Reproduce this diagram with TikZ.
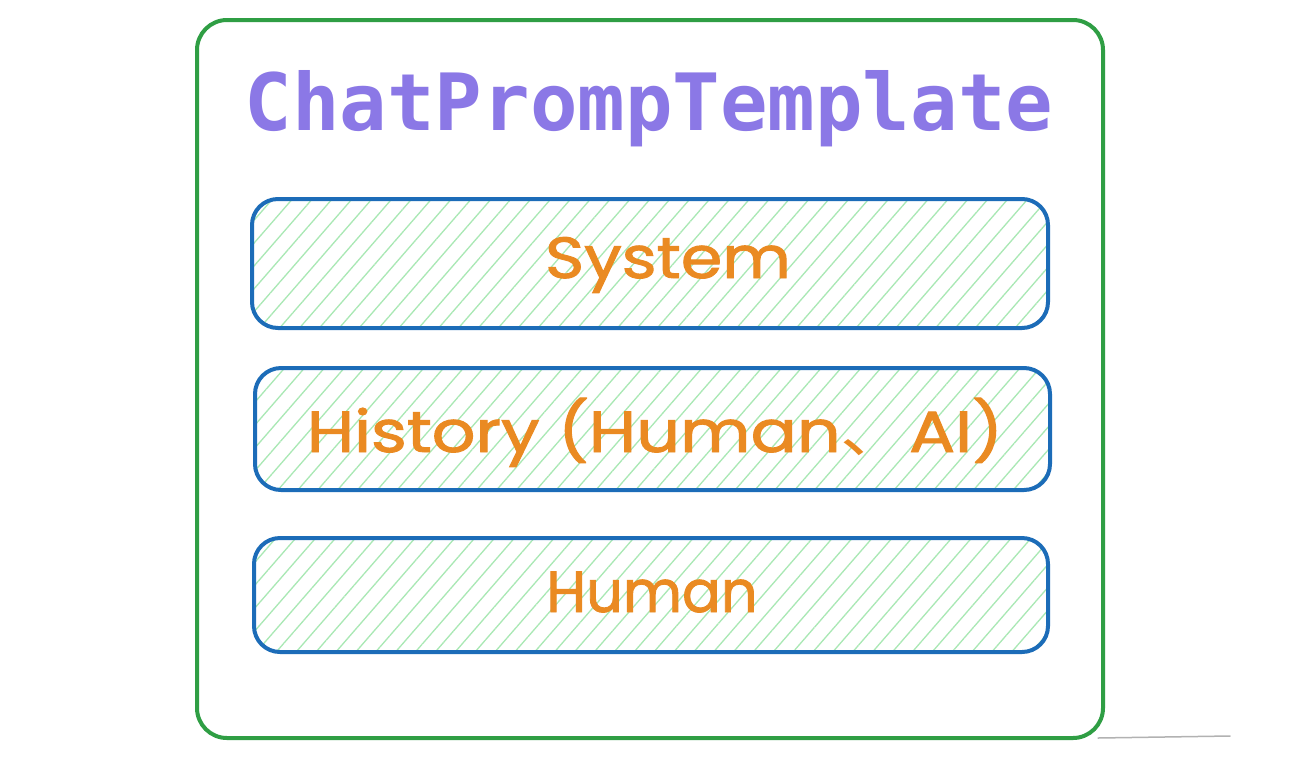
\documentclass[tikz,border=0pt]{standalone}
\usepackage{fontspec}
\usepackage{graphicx}
\newfontfamily\titlefont{DejaVu Sans Mono}
\newfontfamily\labelfont{Poppins}[FakeBold=1.6]
\newfontfamily\cjk{Noto Sans CJK SC}
\usetikzlibrary{patterns.meta}
\definecolor{outergreen}{HTML}{2F9E44}
\definecolor{boxblue}{HTML}{1C6CB8}
\definecolor{hatchgreen}{HTML}{A9E8B4}
\definecolor{titlepurple}{HTML}{8B78E6}
\definecolor{labelorange}{HTML}{EA8A22}
\tikzset{
  outerbox/.style={draw=outergreen, line width=4pt, rounded corners=30pt, rectangle},
  itembox/.style={draw=boxblue, line width=4pt, rounded corners=26pt, rectangle,
    pattern={Lines[angle=49,distance=15pt,line width=1.3pt]}, pattern color=hatchgreen},
  titletext/.style={font=\titlefont\bfseries\fontsize{79}{90}\selectfont, text=titlepurple, inner sep=0pt},
  labeltext/.style={font=\labelfont\fontsize{58}{66}\selectfont, text=labelorange, inner sep=0pt}
}
\begin{document}
\begin{tikzpicture}[x=1pt,y=-1pt]
\useasboundingbox (0,0) rectangle (1290,764);
\fill[white] (0,0) rectangle (1290,764);
\draw[black!30, line width=1.5pt, line cap=round] (1098,738) -- (1230,736);
\node[outerbox, minimum width=906pt, minimum height=718pt] (outer) at (650,379) {};
\node[titletext, anchor=base] (title) at (649,130) {ChatPrompTemplate};
\node[itembox, minimum width=796pt, minimum height=129pt] (system) at (650,263.5) {};
\node[itembox, minimum width=795pt, minimum height=122pt] (history) at (652.5,429) {};
\node[itembox, minimum width=794pt, minimum height=114pt] (human) at (651,595) {};
\node[labeltext, anchor=base] (systemlabel) at (668,278) {\scalebox{1.15}[1]{System}};
\node[labeltext, anchor=base] (historylabel) at (655,452) {\scalebox{1.18}[1]{History (Human{\cjk 、}AI)}};
\node[labeltext, anchor=base] (humanlabel) at (652,612) {\scalebox{0.99}[1]{Human}};
\end{tikzpicture}
\end{document}
